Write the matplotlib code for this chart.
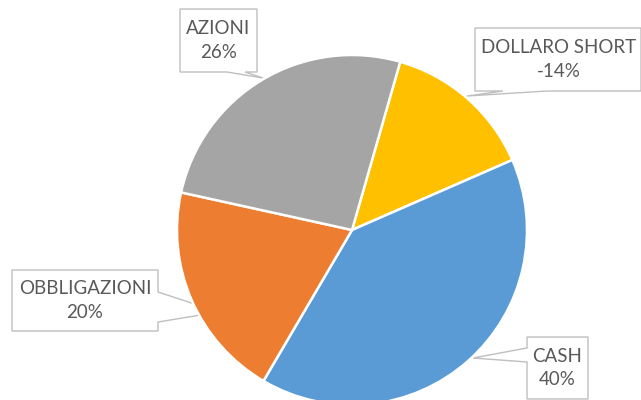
import matplotlib
matplotlib.use("Agg")
import matplotlib.pyplot as plt
from matplotlib.patches import Polygon

labels = ["DOLLARO SHORT", "CASH", "OBBLIGAZIONI", "AZIONI"]
values = [-14, 40, 20, 26]
colors = ["#FFC000", "#5B9BD5", "#ED7D31", "#A5A5A5"]

W, H = 641, 400
fig = plt.figure(figsize=(W / 100, H / 100), dpi=100)
ax = fig.add_axes([0, 0, 1, 1])

cx, cy, r = 352, H - 230, 175
wedges, _ = ax.pie([abs(v) for v in values], colors=colors, center=(cx, cy), radius=r,
                   startangle=74, counterclock=False,
                   wedgeprops=dict(edgecolor="white", linewidth=1.8))
for w in wedges:
    w.set_zorder(3)

# callout geometry in image pixel coords
callouts = {
    "AZIONI": [(180, 9), (257, 9), (257, 72), (245, 72), (263, 78), (227, 72), (180, 72)],
    "DOLLARO SHORT": [(475, 28), (641, 28), (641, 91), (547, 91), (467, 96), (503, 91), (475, 91)],
    "OBBLIGAZIONI": [(12, 270), (158, 270), (158, 292), (219, 312), (158, 322), (158, 331), (12, 331)],
    "CASH": [(527, 337), (588, 337), (588, 399), (527, 399), (527, 362), (473, 358), (527, 348)],
}
boxes = {
    "AZIONI": (180, 9, 257, 72),
    "DOLLARO SHORT": (475, 28, 641, 91),
    "OBBLIGAZIONI": (12, 270, 158, 331),
    "CASH": (527, 337, 588, 399),
}

for lab, val in zip(labels, values):
    pts = [(x, H - y) for x, y in callouts[lab]]
    ax.add_patch(Polygon(pts, closed=True, facecolor="white", edgecolor="#BFBFBF",
                         linewidth=1.0, zorder=1))
    x0, y0, x1, y1 = boxes[lab]
    ax.text((x0 + x1) / 2 + (1 if lab == "DOLLARO SHORT" else 0), H - (y0 + y1) / 2,
            f"{lab}\n{val}%", ha="center", va="center", multialignment="center",
            fontsize=13.5, color="#595959", family="Lato", linespacing=1.45, zorder=5)

ax.set_xlim(0, W)
ax.set_ylim(0, H)
ax.set_aspect("equal")
ax.axis("off")
fig.savefig("out.png", dpi=100)
